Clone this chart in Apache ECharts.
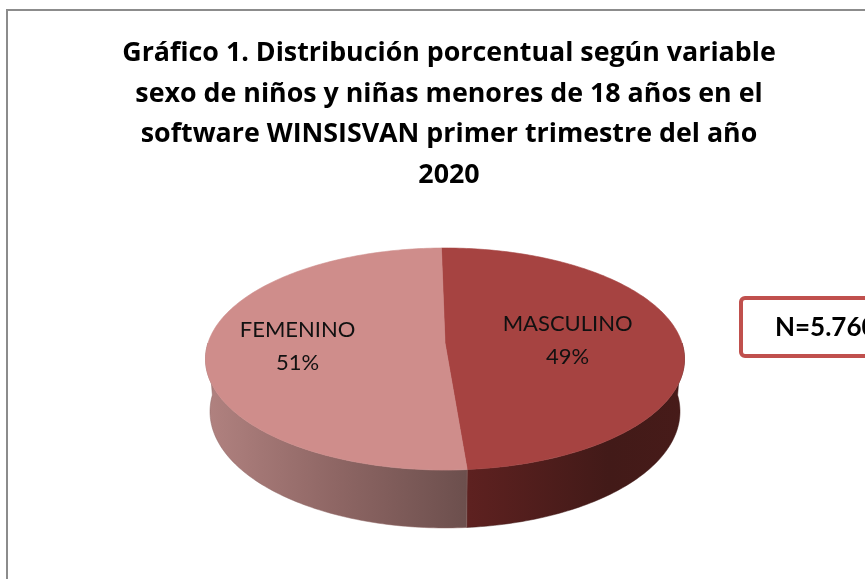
<!DOCTYPE html>
<html>
<head>
<meta charset="utf-8">
<script src="https://cdn.jsdelivr.net/npm/echarts@6/dist/echarts.min.js"></script>
<style>
  html, body { margin: 0; padding: 0; background: #fff; }
  #chart { width: 865px; height: 579px; }
</style>
</head>
<body>
<div id="chart"></div>
<script>
// datos del gráfico
var categories = ['MASCULINO', 'FEMENINO'];
var percentValues = [49, 51];
var sampleText = 'N=5.760';

var topColors = ['#A64341', '#CF8D8B'];
var sideColors = [
  [['#5E2120', 0], ['#421A18', 0.65], ['#471B19', 1]],
  [['#B18280', 0], ['#8E6664', 0.5], ['#6C4F4D', 1]]
];
var labelRadius = [0.52, 0.62];

// vista 3D (perspectiva simple)
var cx = 445, cy = 343;
var tilt = 27.3 * Math.PI / 180;
var dist = 6.163, focal = 1460.6, depth = 0.252;
var startDeg = -1;

function project(deg, r, h) {
  var t = deg * Math.PI / 180;
  var X = r * Math.sin(t), z = r * Math.cos(t);
  var yv = h * Math.cos(tilt) + z * Math.sin(tilt);
  var dep = dist + z * Math.cos(tilt) - h * Math.sin(tilt);
  return [cx + focal * X / dep, cy - focal * yv / dep];
}

function arc(a, b, h) {
  var pts = [];
  var n = Math.max(2, Math.ceil(Math.abs(b - a)));
  for (var k = 0; k <= n; k++) {
    pts.push(project(a + (b - a) * k / n, 1, h));
  }
  return pts;
}

var total = percentValues.reduce(function (s, v) { return s + v; }, 0);

function renderItem(params, api) {
  var i = params.dataIndex;
  var before = 0;
  for (var k = 0; k < i; k++) before += percentValues[k];
  var a0 = startDeg + before / total * 360;
  var a1 = a0 + api.value(0) / total * 360;
  var children = [];

  var sa = Math.max(a0, 90), sb = Math.min(a1, 270);
  if (sb > sa) {
    var side = arc(sa, sb, 0).concat(arc(sb, sa, -depth));
    children.push({
      type: 'polygon',
      shape: { points: side },
      style: {
        fill: new echarts.graphic.LinearGradient(0, 0, 1, 0, sideColors[i].map(function (c) {
          return { offset: c[1], color: c[0] };
        })),
        stroke: sideColors[i][1][0],
        lineWidth: 0.5
      }
    });
  }

  var topPts = [project(0, 0, 0)].concat(arc(a0, a1, 0));
  children.push({
    type: 'polygon',
    shape: { points: topPts },
    style: { fill: topColors[i], stroke: topColors[i], lineWidth: 0.6 }
  });

  var mid = (a0 + a1) / 2;
  var lp = project(mid, labelRadius[i], 0);
  children.push({
    type: 'text',
    x: lp[0],
    y: lp[1],
    style: {
      text: categories[i] + '\n' + api.value(0) + '%',
      align: 'center',
      verticalAlign: 'middle',
      fontFamily: 'Lato',
      fontSize: 22,
      lineHeight: 33,
      fill: '#111'
    }
  });
  return { type: 'group', children: children };
}

var chart = echarts.init(document.getElementById('chart'));
chart.setOption({
  backgroundColor: '#fff',
  animation: false,
  title: {
    text: 'Gráfico 1. Distribución porcentual según variable\nsexo de niños y niñas menores de 18 años en el\nsoftware WINSISVAN primer trimestre del año\n2020',
    left: 444,
    top: 28,
    textAlign: 'center',
    textStyle: {
      fontFamily: 'Open Sans',
      fontWeight: 'bold',
      fontSize: 26.8,
      lineHeight: 40.7,
      color: '#000'
    }
  },
  graphic: [
    {
      type: 'rect',
      z: -1,
      shape: { x: 7, y: 10, width: 900, height: 620 },
      style: { fill: 'none', stroke: '#8C8C8C', lineWidth: 2 }
    },
    {
      type: 'rect',
      shape: { x: 741, y: 298, width: 200, height: 58, r: 4 },
      style: { fill: '#fff', stroke: '#C0504D', lineWidth: 4 }
    },
    {
      type: 'text',
      x: 775,
      y: 328,
      style: {
        text: sampleText,
        fontFamily: 'Lato',
        fontWeight: 'bold',
        fontSize: 26,
        verticalAlign: 'middle',
        fill: '#000'
      }
    }
  ],
  series: [{
    type: 'custom',
    coordinateSystem: 'none',
    renderItem: renderItem,
    data: percentValues.map(function (v, i) { return { name: categories[i], value: [v] }; })
  }]
});
</script>
</body>
</html>
